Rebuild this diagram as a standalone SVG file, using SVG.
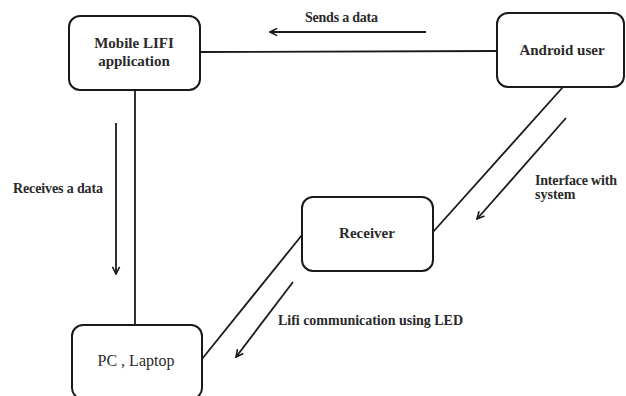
<svg xmlns="http://www.w3.org/2000/svg" width="626" height="396" viewBox="0 0 626 396">
<style>
.box{fill:#fff;stroke:#1a1a1a;stroke-width:2}
.ln{stroke:#1a1a1a;stroke-width:1.8;fill:none}
.arr{stroke:#1a1a1a;stroke-width:1.8;fill:none;marker-end:url(#ah)}
.t{font-family:"Liberation Serif","Times New Roman",serif;fill:#2a2a2a}
.nb{font-size:15px;font-weight:bold;text-anchor:middle}
.lb{font-size:14px;font-weight:bold}
</style>
<defs>
<marker id="ah" viewBox="0 0 10 10" refX="9" refY="5" markerWidth="9" markerHeight="9" markerUnits="userSpaceOnUse" orient="auto">
<path d="M1,1 L9,5 L1,9" fill="none" stroke="#1a1a1a" stroke-width="1.8"/>
</marker>
</defs>
<rect width="626" height="396" fill="#fff"/>
<g id="connectors">
<line class="ln" x1="200" y1="52" x2="497" y2="51"/>
<line class="ln" x1="135" y1="90" x2="135" y2="325"/>
<line class="ln" x1="563" y1="87" x2="433" y2="232"/>
<line class="ln" x1="302" y1="235" x2="202" y2="359"/>
<line class="arr" x1="426" y1="32" x2="270" y2="32"/>
<line class="arr" x1="116" y1="123" x2="116" y2="274"/>
<line class="arr" x1="566" y1="118" x2="477" y2="219"/>
<line class="arr" x1="293" y1="282" x2="236" y2="357"/>
<text class="t lb" x="305" y="22" textLength="73">Sends a data</text>
<text class="t lb" x="13" y="193" textLength="90">Receives a data</text>
<text class="t lb" x="535" y="185" textLength="82">Interface with</text>
<text class="t lb" x="535" y="199">system</text>
<text class="t lb" x="278" y="325" textLength="185">Lifi communication using LED</text>
</g>
<g id="mobile">
<rect class="box" x="69" y="16" width="131" height="74" rx="11"/>
<text class="t nb" x="134" y="48">Mobile LIFI</text>
<text class="t nb" x="134" y="66">application</text>
</g>
<g id="android">
<rect class="box" x="497" y="13" width="127" height="74" rx="11"/>
<text class="t nb" x="562" y="55">Android user</text>
</g>
<g id="receiver">
<rect class="box" x="302" y="197" width="131" height="74" rx="11"/>
<text class="t nb" x="367" y="238">Receiver</text>
</g>
<g id="pc">
<rect class="box" x="72" y="325" width="130" height="74" rx="11"/>
<text class="t" x="136" y="366" font-size="16" text-anchor="middle">PC , Laptop</text>
</g>
</svg>
